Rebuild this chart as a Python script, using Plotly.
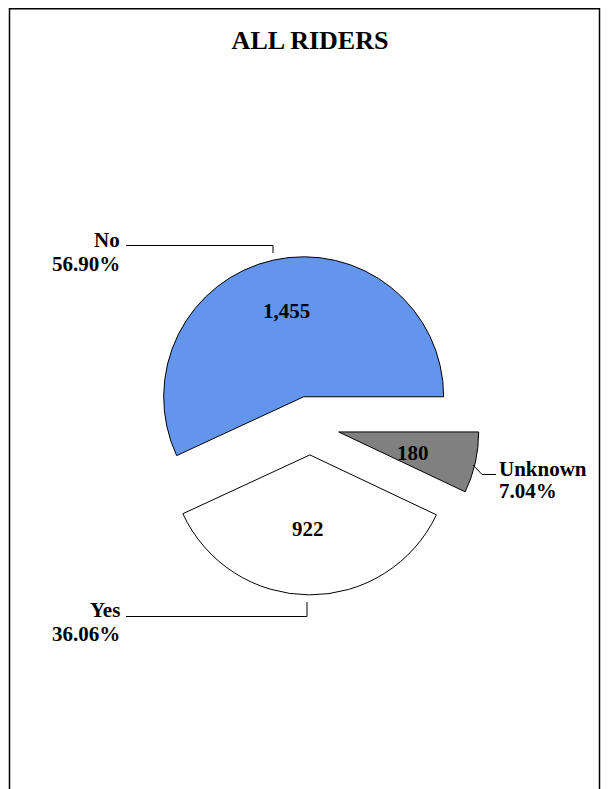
"""
Exploded pie: rider status breakdown, styled like the old spreadsheet chart.
"""

import plotly.graph_objects as go

# ---------------------------------------------------------------------------
# Data
# ---------------------------------------------------------------------------

CATEGORIES = ["No", "Yes", "Unknown"]
COUNTS = [1455, 922, 180]
PERCENT_LABELS = ["56.90%", "36.06%", "7.04%"]
TITLE = "ALL RIDERS"

# ---------------------------------------------------------------------------
# Style
# ---------------------------------------------------------------------------

W, H = 610, 789
PAGE_OFFSET = 8  # browser body margin around the plot div
FONT = "'Liberation Serif', 'Times New Roman', serif"
SLICE_COLORS = ["#6495ED", "#FFFFFF", "#808080"]
LABEL_FONT = dict(family=FONT, size=21, color="black", weight="bold")


def px(x):
    """screen pixel x -> paper x"""
    return (x - PAGE_OFFSET) / W


def py(y):
    """screen pixel y -> paper y"""
    return 1 - (y - PAGE_OFFSET) / H


# pie geometry (screen pixels): centre and radius, pull shared by all slices
CX, CY, R, PULL = 310, 425.5, 140, 0.21
HALF = R * (1 + PULL)

# first slice runs counter-clockwise from 3 o'clock; plotly anchors the
# rotation at the far end of the first slice in ccw mode
first_share = COUNTS[0] / sum(COUNTS)
rotation = 90 - 360 * first_share

fig = go.Figure(go.Pie(
    labels=CATEGORIES,
    values=COUNTS,
    sort=False,
    direction="counterclockwise",
    rotation=rotation,
    pull=[PULL] * len(COUNTS),
    marker=dict(colors=SLICE_COLORS, line=dict(color="black", width=1)),
    textinfo="none",
    hovertemplate="%{label}: %{value:,} (%{percent})<extra></extra>",
    showlegend=False,
    domain=dict(
        x=[px(CX - HALF), px(CX + HALF)],
        y=[py(CY + HALF), py(CY - HALF)],
    ),
))

annotations = []

# value labels placed where the original chart put them
value_pos = [(286, 311), (308, 529), (413, 453)]
for v, (x, y) in zip(COUNTS, value_pos):
    annotations.append(dict(
        x=px(x), y=py(y), xref="paper", yref="paper",
        text=f"{v:,}", showarrow=False, xanchor="center", yanchor="middle",
        font=LABEL_FONT,
    ))

# outside labels: (name anchor, percent anchor, xanchor)
label_pos = [
    ((122, 240), (122, 264), "right"),
    ((122, 610), (122, 634), "right"),
    ((497, 469), (497, 491), "left"),
]
for name, pct, (p1, p2, xa) in zip(CATEGORIES, PERCENT_LABELS, label_pos):
    for text, (x, y) in ((name, p1), (pct, p2)):
        annotations.append(dict(
            x=px(x), y=py(y), xref="paper", yref="paper",
            text=text, showarrow=False, xanchor=xa, yanchor="middle",
            font=LABEL_FONT,
        ))

# leader lines as polylines (screen pixel coords)
leaders = [
    [(126, 245.5), (273, 245.5), (273, 253)],
    [(126, 616.5), (307, 616.5), (307, 602)],
    [(473, 465), (482, 474.5), (496, 474.5)],
]
shapes = []
for pts in leaders:
    path = "M " + " L ".join(f"{px(x):.5f},{py(y):.5f}" for x, y in pts)
    shapes.append(dict(type="path", path=path, xref="paper", yref="paper",
                       line=dict(color="black", width=1)))

# chart frame
shapes.append(dict(type="rect", xref="paper", yref="paper",
                   x0=px(9.5), x1=px(599.5), y0=-0.05, y1=py(8.75),
                   line=dict(color="black", width=1.5)))

fig.update_layout(
    width=W,
    height=H,
    margin=dict(l=0, r=0, t=0, b=0),
    paper_bgcolor="white",
    plot_bgcolor="white",
    title=dict(
        text=TITLE, x=px(310), y=py(40), xanchor="center", yanchor="middle",
        font=dict(family=FONT, size=26, color="black", weight="bold"),
    ),
    annotations=annotations,
    shapes=shapes,
)

fig.write_html("out.html")
